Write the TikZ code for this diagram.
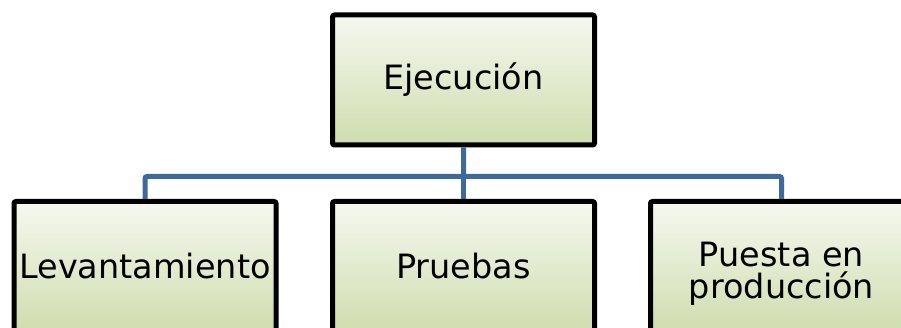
\documentclass[tikz,border=0pt]{standalone}
\usepackage{fontspec}
\setmainfont{DejaVu Sans}
\definecolor{boxtop}{RGB}{246,248,240}
\definecolor{boxbot}{RGB}{206,221,174}
\definecolor{linkblue}{RGB}{62,106,155}
\tikzset{
    stagetext/.style={align=center, font=\fontsize{33.5}{32}\selectfont},
    stage/.style={draw=black, line width=5pt, rounded corners=2pt,
        top color=boxtop, bottom color=boxbot,
        minimum width=262pt, minimum height=130pt, inner sep=0pt,
        stagetext},
    link/.style={draw=linkblue, line width=5pt, rounded corners=2pt}
}
\begin{document}
\begin{tikzpicture}[x=1pt, y=-1pt]
    \useasboundingbox (0,0) rectangle (901,328);
    \clip (0,0) rectangle (901,328);

    \node[stage] (exec) at (463.5,80) {Ejecución};
    \node[stage] (lev) at (145,266.5) {Levantamiento};
    \node[stage] (prueb) at (463.5,266.5) {Pruebas};
    \node[stage] (puesta) at (781.5,266.5) {};
    \node[stagetext, yshift=-7pt] (puestatxt) at (puesta.center) {Puesta en\\producción};

    \draw[link] (exec.south) -- ++(0,29) coordinate (bus) -| (lev.north);
    \draw[link] (bus) -| (puesta.north);
    \draw[link] (bus) -- (prueb.north);
\end{tikzpicture}
\end{document}
